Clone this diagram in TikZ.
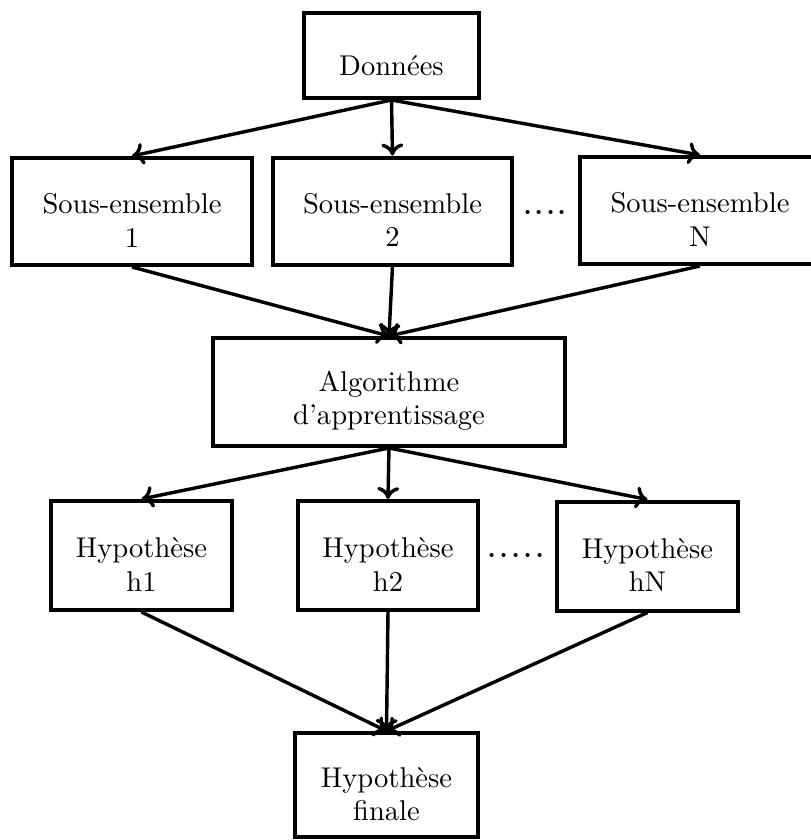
\documentclass[tikz,border=0pt]{standalone}
\usepackage{fontspec}
\usetikzlibrary{arrows.meta}
\begin{document}
\begin{tikzpicture}[x=0.35pt,y=-0.35pt,
  box/.style={draw, line width=1.4pt, inner sep=0pt, align=center,
    font=\fontsize{10}{11.6}\selectfont, text height=24.9pt},
  link/.style={line width=1.2pt, -{To[length=4.2pt,width=7.7pt]}},
  gap/.style={anchor=base, inner sep=0pt, font=\fontsize{14.4}{17}\selectfont}]
\useasboundingbox (0,0) rectangle (811,840);
\clip (0,0) rectangle (811,840);

% data and subsets
\node[box, text height=14.4pt, minimum width=61.25pt, minimum height=29.75pt] (don) at (391.5,55.5) {Données};
\node[box, minimum width=84pt, minimum height=37.45pt] (s1) at (132,211.5) {Sous-ensemble\\1};
\node[box, minimum width=84pt, minimum height=37.45pt] (s2) at (392.5,211) {Sous-ensemble\\2};
\node[box, minimum width=84pt, minimum height=37.45pt] (sn) at (700,210.5) {Sous-ensemble\\N};
\node[gap] (d1) at (545,214) {....};

% learner
\node[box, minimum width=123.2pt, minimum height=37.8pt] (algo) at (389,392) {Algorithme\\d’apprentissage};

% hypotheses
\node[box, minimum width=63.35pt, minimum height=38.15pt] (h1) at (141.5,555.5) {Hypothèse\\h1};
\node[box, minimum width=63.35pt, minimum height=38.15pt] (h2) at (388,555.5) {Hypothèse\\h2};
\node[box, minimum width=63.35pt, minimum height=38.15pt] (hn) at (647.5,556) {Hypothèse\\hN};
\node[gap] (d2) at (516,557) {.\kern0.3pt.\kern0.3pt.\kern0.3pt.\kern0.3pt.};

\node[box, minimum width=64.05pt, minimum height=36.4pt] (fin) at (386.5,785) {Hypothèse\\finale};

% connectors
\foreach \t in {s1,s2,sn} \draw[link] (don.south) -- (\t.north);
\foreach \s in {s1,s2,sn} \draw[link] (\s.south) -- (algo.north);
\foreach \t in {h1,h2,hn} \draw[link] (algo.south) -- (\t.north);
\foreach \s in {h1,h2,hn} \draw[link] (\s.south) -- (fin.north);
\end{tikzpicture}
\end{document}
